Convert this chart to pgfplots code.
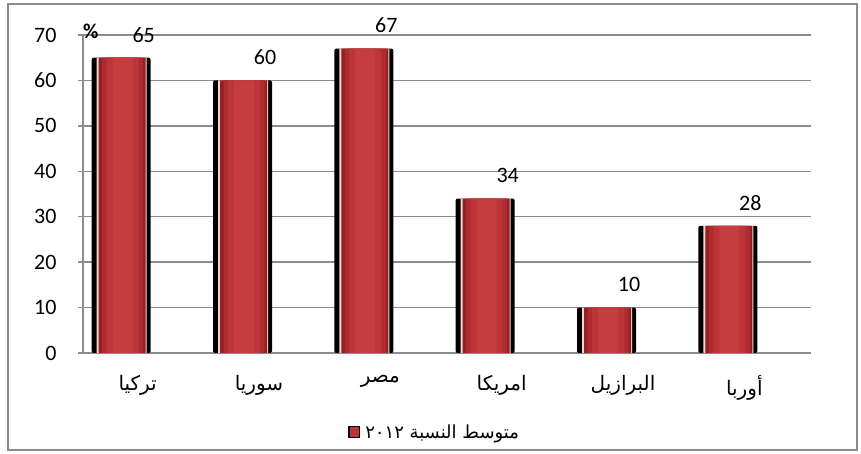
\documentclass[border=0pt]{standalone}
\usepackage{pgfplots}
\pgfplotsset{compat=1.18}
\usepackage{fontspec}
\setmainfont{Carlito}
\newfontfamily\arabicfont[Script=Arabic]{DejaVu Sans}
\TeXXeTstate=1
\definecolor{gridgray}{HTML}{8C8C8C}
\definecolor{barA}{HTML}{951F23}
\definecolor{barB}{HTML}{AE2B2F}
\definecolor{barC}{HTML}{BD3538}
\definecolor{barD}{HTML}{C63D40}
\definecolor{edge}{HTML}{F2D8CC}
\begin{document}
\begin{tikzpicture}[x=1bp,y=1bp]
\path[use as bounding box] (0,0) rectangle (861,454);
\draw[gridgray, line width=1.5bp] (8,4) rectangle (857,450);
\begin{axis}[
  at={(83bp,101bp)}, anchor=south west,
  scale only axis, width=728bp, height=318bp,
  xmin=-0.5, xmax=5.5, ymin=0, ymax=70,
  ytick={0,10,...,70},
  xtick={0,1,2,3,4,5},
  xticklabels={
    {\beginR تركيا\endR},
    {\beginR سوريا\endR},
    {\beginR مصر\endR},
    {\beginR امريكا\endR},
    {\beginR البرازيل\endR},
    {\beginR أوربا\endR}},
  axis x line*=bottom, axis y line*=left,
  axis line style={gridgray, line width=1.5bp},
  ymajorgrids, major grid style={gridgray, line width=1.5bp},
  major x tick style={draw=none},
  major y tick style={gridgray, line width=1.5bp},
  major tick length=5bp,
  tick align=outside,
  /pgf/number format/assume math mode=true,
  yticklabel style={font=\fontsize{22bp}{26bp}\selectfont, xshift=-18bp},
  xticklabel style={font=\arabicfont\fontsize{20bp}{24bp}\selectfont, yshift=-14bp, xshift=-6bp},
  clip=false,
  legend style={at={(0.483,-0.25)}, anchor=center, draw=none, fill=none,
    font=\arabicfont\fontsize{18bp}{22bp}\selectfont},
  legend image code/.code={\fill[black] (0bp,-6bp) rectangle (12bp,6bp);
     \fill[barC] (1.5bp,-5bp) rectangle (11bp,5bp);},
]
\addplot[ybar, bar width=59bp, bar shift=-22.5bp, fill=black, draw=none, rounded corners=2bp, forget plot]
  coordinates {(0,65) (1,60) (2,67) (3,34) (4,10) (5,28)};
\addplot[ybar, bar width=50bp, bar shift=-22bp, fill=edge, draw=none, forget plot]
  coordinates {(0,65) (1,60) (2,67) (3,34) (4,10) (5,28)};
\addplot[ybar, bar width=47bp, bar shift=-21.5bp, fill=barA, draw=none, forget plot]
  coordinates {(0,65) (1,60) (2,67) (3,34) (4,10) (5,28)};
\addplot[ybar, bar width=41bp, bar shift=-21bp, fill=barB, draw=none, forget plot]
  coordinates {(0,65) (1,60) (2,67) (3,34) (4,10) (5,28)};
\addplot[ybar, bar width=32bp, bar shift=-21bp, fill=barC, draw=none, forget plot]
  coordinates {(0,65) (1,60) (2,67) (3,34) (4,10) (5,28)};
\addplot[ybar, bar width=20bp, bar shift=-21bp, fill=barD, draw=none,
  nodes near coords,
  nodes near coords style={font=\fontsize{22bp}{26bp}\selectfont, yshift=12bp, black}]
  coordinates {(0,65) (1,60) (2,67) (3,34) (4,10) (5,28)};
\addlegendentry{\beginR متوسط النسبة\ \beginL٢٠١٢\endL\hspace{3bp}\endR}
\node[font=\bfseries\fontsize{21bp}{24bp}\selectfont, anchor=south west, inner sep=0pt] at (rel axis cs:0,1) [xshift=0bp,yshift=-4bp] {\%};
\end{axis}
\end{tikzpicture}
\end{document}
